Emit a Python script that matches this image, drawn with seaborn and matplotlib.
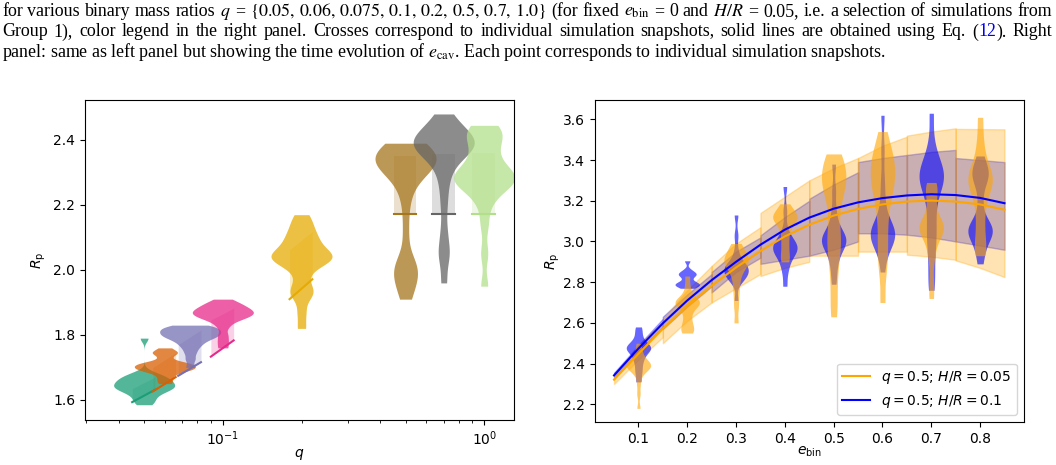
import numpy as np
import pandas as pd
import matplotlib
matplotlib.use("Agg")
import matplotlib.pyplot as plt
import seaborn as sns

# ---------------- Left panel data ----------------
q_values = [0.05, 0.06, 0.075, 0.1, 0.2, 0.5, 0.7, 1.0]
q_colors = ["#1b9e77", "#d95f02", "#7570b3", "#e7298a", "#e6ab02",
            "#a6761d", "#666666", "#b2df8a"]
rp_q005 = [1.79, 1.685, 1.678, 1.672, 1.668, 1.664, 1.66, 1.656, 1.652,
           1.648, 1.645, 1.642, 1.638, 1.635, 1.632, 1.628, 1.622, 1.615,
           1.605, 1.595, 1.585]
rp_q006 = [1.76, 1.75, 1.745, 1.742, 1.73, 1.718, 1.715, 1.712, 1.71, 1.707,
           1.705, 1.702, 1.70, 1.697, 1.695, 1.692, 1.69, 1.686, 1.68, 1.67,
           1.66, 1.65]
rp_q0075 = [1.83, 1.827, 1.824, 1.82, 1.817, 1.814, 1.81, 1.807, 1.804, 1.80,
            1.797, 1.794, 1.79, 1.785, 1.778, 1.77, 1.76, 1.745, 1.725, 1.70]
rp_q01 = [1.91, 1.90, 1.895, 1.89, 1.885, 1.88, 1.877, 1.874, 1.87, 1.867,
          1.864, 1.86, 1.857, 1.853, 1.848, 1.84, 1.825, 1.80, 1.78, 1.76]
rp_q02 = [2.17, 2.15, 2.13, 2.115, 2.10, 2.09, 2.08, 2.065, 2.055, 2.05, 2.045,
          2.04, 2.035, 2.03, 2.025, 2.02, 2.00, 1.97, 1.94, 1.93, 1.92, 1.87,
          1.82]
rp_q05 = [2.39, 2.385, 2.38, 2.37, 2.36, 2.355, 2.35, 2.345, 2.34, 2.335, 2.33,
          2.325, 2.32, 2.31, 2.30, 2.28, 2.25, 2.20, 2.12, 2.03, 2.01, 2.00,
          1.99, 1.97, 1.94, 1.91]
rp_q07 = [2.48, 2.46, 2.445, 2.43, 2.42, 2.41, 2.405, 2.40, 2.395, 2.39,
          2.385, 2.38, 2.375, 2.37, 2.36, 2.35, 2.33, 2.30, 2.26, 2.20, 2.12,
          2.06, 2.04, 1.96]
rp_q10 = [2.445, 2.435, 2.425, 2.415, 2.40, 2.38, 2.36, 2.34, 2.32, 2.31, 2.30,
          2.29, 2.285, 2.28, 2.275, 2.27, 2.26, 2.25, 2.23, 2.20, 2.14, 2.05,
          1.95]
rp_by_q = [rp_q005, rp_q006, rp_q0075, rp_q01, rp_q02, rp_q05, rp_q07, rp_q10]
# Eq. (12) segments, evaluated at q*0.9 and q*1.1
eq12_lo = [1.593, 1.626, 1.674, 1.733, 1.910, 2.171, 2.171, 2.171]
eq12_hi = [1.631, 1.670, 1.716, 1.783, 1.971, 2.171, 2.171, 2.171]
band_top_lo = [1.635, 1.700, 1.770, 1.846, 2.062, 2.352, 2.357, 2.359]
band_top_hi = [1.670, 1.744, 1.815, 1.882, 2.118, 2.352, 2.357, 2.359]
seg_factor = [0.9, 1.1]

# ---------------- Right panel data ----------------
e_bins = [0.1, 0.2, 0.3, 0.4, 0.5, 0.6, 0.7, 0.8]
rp_hr005 = [
    [2.50, 2.47, 2.45, 2.43, 2.42, 2.41, 2.40, 2.40, 2.39, 2.39, 2.38, 2.38, 2.37, 2.36, 2.34, 2.30, 2.25, 2.18],
    [2.83, 2.78, 2.74, 2.72, 2.71, 2.70, 2.70, 2.69, 2.68, 2.66, 2.63, 2.60, 2.58, 2.56, 2.55],
    [2.99, 2.97, 2.95, 2.93, 2.92, 2.91, 2.90, 2.89, 2.88, 2.86, 2.83, 2.79, 2.74, 2.68, 2.60],
    [3.185, 3.16, 3.14, 3.13, 3.12, 3.11, 3.10, 3.08, 3.05, 3.01, 2.97, 2.93, 2.90],
    [3.43, 3.41, 3.38, 3.35, 3.32, 3.30, 3.28, 3.26, 3.22, 3.17, 3.10, 3.04, 3.00, 2.96, 2.90, 2.82, 2.72, 2.63],
    [3.54, 3.47, 3.43, 3.40, 3.37, 3.34, 3.31, 3.28, 3.25, 3.21, 3.15, 3.08, 3.00, 2.93, 2.85, 2.70],
    [3.29, 3.27, 3.24, 3.20, 3.15, 3.11, 3.09, 3.08, 3.07, 3.06, 3.05, 3.03, 3.00, 2.96, 2.90, 2.80, 2.72],
    [3.61, 3.50, 3.42, 3.37, 3.34, 3.32, 3.30, 3.28, 3.26, 3.22, 3.16, 3.09, 3.02, 2.96, 2.93],
]
rp_hr01 = [
    [2.58, 2.55, 2.52, 2.50, 2.49, 2.48, 2.48, 2.47, 2.46, 2.45, 2.43, 2.41, 2.38, 2.35, 2.31],
    [2.905, 2.86, 2.845, 2.84, 2.835, 2.82, 2.80, 2.795, 2.79, 2.785, 2.78, 2.77],
    [3.13, 3.03, 2.95, 2.90, 2.89, 2.88, 2.87, 2.86, 2.85, 2.84, 2.83, 2.82, 2.80, 2.71],
    [3.27, 3.15, 3.06, 3.02, 3.00, 2.99, 2.98, 2.97, 2.96, 2.95, 2.94, 2.92, 2.89, 2.85, 2.78],
    [3.38, 3.25, 3.15, 3.09, 3.05, 3.03, 3.02, 3.01, 3.00, 2.99, 2.97, 2.95, 2.91, 2.86, 2.79],
    [3.62, 3.45, 3.30, 3.20, 3.12, 3.08, 3.06, 3.05, 3.04, 3.03, 3.02, 3.00, 2.98, 2.94, 2.85],
    [3.63, 3.48, 3.40, 3.37, 3.35, 3.33, 3.31, 3.29, 3.27, 3.23, 3.15, 3.08, 3.02, 2.95, 2.85, 2.76],
    [3.42, 3.37, 3.35, 3.33, 3.31, 3.28, 3.20, 3.12, 3.08, 3.07, 3.06, 3.05, 3.04, 3.02, 2.99, 2.95, 2.89],
]
# Eq. (12) curves
curve_e = [0.05, 0.10, 0.15, 0.20, 0.25, 0.30, 0.35, 0.40, 0.45, 0.50, 0.55,
           0.60, 0.65, 0.70, 0.75, 0.80, 0.85]
curve_hr005 = [2.321, 2.448, 2.571, 2.683, 2.782, 2.872, 2.953, 3.025, 3.082,
               3.127, 3.160, 3.182, 3.196, 3.201, 3.196, 3.182, 3.156]
curve_hr01 = [2.342, 2.474, 2.598, 2.710, 2.810, 2.900, 2.984, 3.058, 3.117,
              3.161, 3.192, 3.213, 3.226, 3.232, 3.228, 3.214, 3.188]
# uncertainty bands per e_bin segment: values at e-0.05, e, e+0.05
band_offsets = [-0.05, 0.0, 0.05]
band_hr005_top = [[2.34, 2.49, 2.61], [2.62, 2.76, 2.88], [2.88, 2.99, 3.07],
                  [3.14, 3.22, 3.30], [3.30, 3.36, 3.41], [3.41, 3.47, 3.515],
                  [3.52, 3.54, 3.556], [3.553, 3.552, 3.551]]
band_hr005_bot = [[2.30, 2.42, 2.53], [2.50, 2.61, 2.70], [2.70, 2.77, 2.84],
                  [2.83, 2.87, 2.90], [2.93, 2.93, 2.93], [2.95, 2.95, 2.95],
                  [2.935, 2.925, 2.91], [2.907, 2.87, 2.825]]
band_hr01_top = [[2.355, 2.49, 2.62], [2.63, 2.74, 2.84], [2.85, 2.95, 3.02],
                 [3.03, 3.12, 3.20], [3.21, 3.28, 3.34], [3.39, 3.41, 3.425],
                 [3.425, 3.44, 3.45], [3.41, 3.40, 3.39]]
band_hr01_bot = [[2.33, 2.46, 2.58], [2.57, 2.68, 2.78], [2.75, 2.85, 2.92],
                 [2.89, 2.91, 2.93], [2.93, 2.96, 3.00], [3.04, 3.04, 3.033],
                 [3.033, 3.02, 3.00], [3.00, 2.98, 2.959]]
legend_labels = [r"$q=0.5$; $H/R=0.05$", r"$q=0.5$; $H/R=0.1$"]

# ---------------- Figure ----------------
W, H = 1056, 465
fig = plt.figure(figsize=(W / 100, H / 100), dpi=100)
axL = fig.add_axes([85 / W, 1 - 420 / H, (514 - 85) / W, 320 / H])
axR = fig.add_axes([595 / W, 1 - 422 / H, (1024 - 595) / W, 322 / H])

# ----- left panel
q_labels = [str(q) for q in q_values]
rows = []
for q, lab, vals in zip(q_values, q_labels, rp_by_q):
    for v in vals:
        rows.append((q, lab, v))
dfL = pd.DataFrame(rows, columns=["q", "qlab", "Rp"])
for q, c, lo, hi, tlo, thi in zip(q_values, q_colors, eq12_lo, eq12_hi,
                                  band_top_lo, band_top_hi):
    xs = [q * f for f in seg_factor]
    axL.fill_between(xs, [lo, hi], [tlo, thi], color=c, alpha=0.22,
                     linewidth=0, zorder=0.5)
    axL.plot(xs, [lo, hi], color=c, lw=1.5, zorder=3)
sns.violinplot(data=dfL, x="q", y="Rp", hue="qlab", hue_order=q_labels,
               palette=dict(zip(q_labels, q_colors)), native_scale=True,
               log_scale=(True, False), cut=0, inner=None, linewidth=0,
               density_norm="width", width=2.95, dodge=False, saturation=1,
               alpha=0.75, legend=False, bw_adjust=0.5, orient="v", ax=axL)
axL.set_xlim(0.0297, 1.30)
axL.set_ylim(1.538, 2.523)
axL.set_yticks([1.6, 1.8, 2.0, 2.2, 2.4])
axL.set_xlabel(r"$q$", fontsize=10, labelpad=-1)
axL.set_ylabel(r"$R_{\rm p}$", fontsize=10)
axL.tick_params(labelsize=10)

# ----- right panel
for e, tops, bots in zip(e_bins, band_hr01_top, band_hr01_bot):
    axR.fill_between([e + o for o in band_offsets], bots, tops, color="blue",
                     alpha=0.3, lw=1, zorder=1)
for e, tops, bots in zip(e_bins, band_hr005_top, band_hr005_bot):
    axR.fill_between([e + o for o in band_offsets], bots, tops, color="orange",
                     alpha=0.3, lw=1, zorder=1)

def long_df(values):
    r = []
    for e, vals in zip(e_bins, values):
        for v in vals:
            r.append((e, v))
    return pd.DataFrame(r, columns=["e", "Rp"])

for data, col in [(rp_hr01, "blue"), (rp_hr005, "orange")]:
    sns.violinplot(data=long_df(data), x="e", y="Rp", native_scale=True,
                   color=col, cut=0, inner=None, linewidth=0,
                   density_norm="width", width=0.5, saturation=1, alpha=0.6,
                   bw_adjust=0.5, orient="v", ax=axR)

axR.plot(curve_e, curve_hr005, color="orange", lw=1.5, zorder=4, label=legend_labels[0])
axR.plot(curve_e, curve_hr01, color="blue", lw=1.5, zorder=4, label=legend_labels[1])
axR.set_xlim(0.011, 0.890)
axR.set_ylim(2.113, 3.695)
axR.set_xticks(e_bins)
axR.set_yticks([2.2, 2.4, 2.6, 2.8, 3.0, 3.2, 3.4, 3.6])
axR.set_xlabel(r"$e_{\rm bin}$", fontsize=10, labelpad=-1)
axR.set_ylabel(r"$R_{\rm p}$", fontsize=10, labelpad=1)
axR.tick_params(labelsize=10)
axR.legend(loc="lower right", fontsize=10, labelspacing=0.45, borderpad=0.4)

# ----- caption (justified lines)
cap_font = "Liberation Serif"
cap_line1 = ["for", "various", "binary", "mass", "ratios", r"$q$", "=",
             r"$\{0.05,\,0.06,\,0.075,\,0.1,\,0.2,\,0.5,\,0.7,\,1.0\}$",
             "(for", "fixed", r"$e_{\rm bin}$", "=", "0", "and", r"$H/R$", "=",
             "0.05,", "i.e.", "a", "selection", "of", "simulations", "from"]
cap_line2 = ["Group", "1),", "color", "legend", "in", "the", "right", "panel.",
             "Crosses", "correspond", "to", "individual", "simulation",
             "snapshots,", "solid", "lines", "are", "obtained", "using", "Eq.",
             [("(", "black"), ("12", "#0000ee"), (").", "black")], "Right"]
cap_line3 = (r"panel: same as left panel but showing the time evolution of "
             r"$e_{\rm cav}$. Each point corresponds to individual simulation snapshots.")

renderer = fig.canvas.get_renderer()

def tw(s, fs):
    t = fig.text(0, 0, s, family=cap_font, fontsize=fs, math_fontfamily="stix")
    w = t.get_window_extent(renderer).width
    t.remove()
    return w

fs0 = 10.0
fs = fs0 * 885.0 / tw(cap_line3, fs0)

def put(x, ybase, s, color="black"):
    fig.text(x / W, 1 - ybase / H, s, family=cap_font, fontsize=fs,
             math_fontfamily="stix", color=color, va="baseline")

def justify(tokens, ybase, x0=2, x1=1052):
    widths = []
    for tok in tokens:
        if isinstance(tok, list):
            widths.append(sum(tw(p, fs) for p, _ in tok))
        else:
            widths.append(tw(tok, fs))
    gap = (x1 - x0 - sum(widths)) / (len(tokens) - 1)
    x = x0
    for tok, w in zip(tokens, widths):
        if isinstance(tok, list):
            xx = x
            for p, c in tok:
                put(xx, ybase, p, c)
                xx += tw(p, fs)
        else:
            put(x, ybase, tok)
        x += w + gap

justify(cap_line1, 16)
justify(cap_line2, 36.5)
put(2, 57, cap_line3)

fig.savefig("out.png", dpi=100)
